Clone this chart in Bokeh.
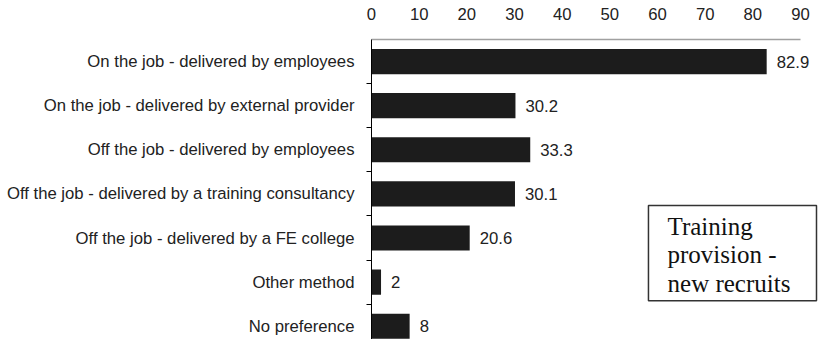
from bokeh.plotting import figure
from bokeh.models import Range1d, FixedTicker, Label
from bokeh.core.properties import value
from bokeh.embed import file_html
from bokeh.resources import INLINE

categories = [
    "On the job - delivered by employees",
    "On the job - delivered by external provider",
    "Off the job - delivered by employees",
    "Off the job - delivered by a training consultancy",
    "Off the job - delivered by a FE college",
    "Other method",
    "No preference",
]
values = [82.9, 30.2, 33.3, 30.1, 20.6, 2, 8]
value_labels = ["82.9", "30.2", "33.3", "30.1", "20.6", "2", "8"]
x_ticks = [0, 10, 20, 30, 40, 50, 60, 70, 80, 90]
title_lines = ["Training", "provision -", "new recruits"]

idx = list(range(len(categories)))
FONT = "Liberation Sans"
SERIF = "Liberation Serif"
FS = "16.7px"

p = figure(width=818, height=339, output_backend="svg", toolbar_location=None,
           x_range=Range1d(0, 93.77), y_range=Range1d(6.3, -0.5),
           x_axis_location="above", min_border_left=371, min_border_top=39,
           min_border_right=0, min_border_bottom=0)
p.outline_line_color = None
p.grid.visible = False
p.background_fill_color = "white"
p.border_fill_color = "white"

p.hbar(y=idx, right=values, left=0, height=0.57, fill_color="#1c1c1c", line_color=None)
p.text(x=values, y=idx, text=value_labels, x_offset=10, text_baseline="middle",
       text_font=value(FONT), text_font_size=FS, text_color="#222222")

xa = p.xaxis[0]
xa.ticker = FixedTicker(ticks=x_ticks)
xa.bounds = (0, 90)
xa.axis_line_color = "#a0a0a0"
xa.axis_line_width = 1.5
xa.major_tick_out = 0
xa.major_tick_in = 0
xa.minor_tick_out = 0
xa.minor_tick_in = 0
xa.major_label_standoff = 20
xa.major_label_text_font = FONT
xa.major_label_text_font_size = FS
xa.major_label_text_color = "#222222"

ya = p.yaxis[0]
ya.ticker = FixedTicker(ticks=idx, minor_ticks=[i + 0.5 for i in idx[:-1]])
ya.major_label_overrides = {i: c for i, c in zip(idx, categories)}
ya.axis_line_color = "black"
ya.axis_line_width = 1
ya.major_tick_out = 0
ya.major_tick_in = 0
ya.minor_tick_out = 5
ya.minor_tick_in = 0
ya.minor_tick_line_color = "black"
ya.major_label_standoff = 12
ya.major_label_text_font = FONT
ya.major_label_text_font_size = FS
ya.major_label_text_color = "#222222"

# annotation box
p.quad(left=[58.1], right=[93.35], top=[3.26], bottom=[5.42], fill_color="white",
       line_color="#333333", line_width=1.5)
for line, ly in zip(title_lines, [3.729, 4.364, 5.021]):
    p.add_layout(Label(x=62.1, y=ly, text=line, text_font=SERIF,
                       text_font_size="25px", text_baseline="alphabetic",
                       text_color="#111111"))

open("out.html", "w").write(file_html(p, INLINE))
